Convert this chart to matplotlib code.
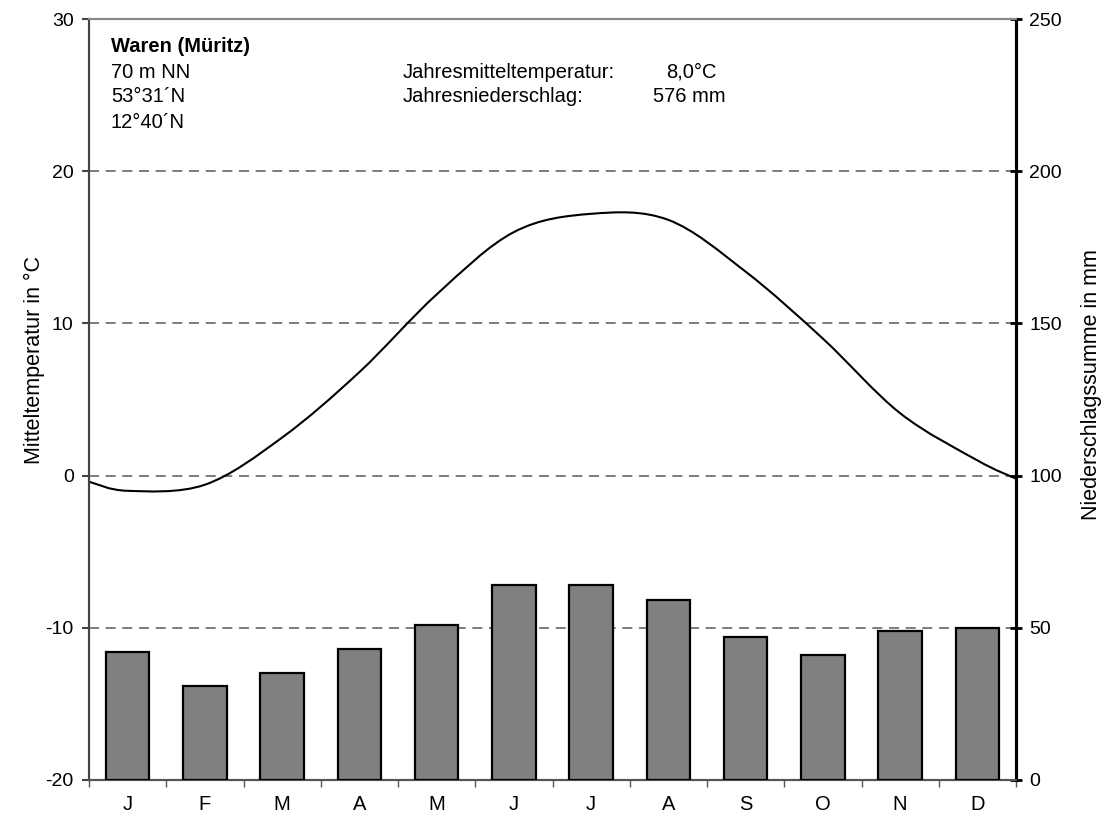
import matplotlib
matplotlib.use("Agg")
import matplotlib.pyplot as plt
from matplotlib.path import Path
from matplotlib.patches import PathPatch

plt.rcParams['font.family'] = ['Liberation Sans', 'DejaVu Sans']
plt.rcParams['axes.unicode_minus'] = False

# Klimadaten Waren (Müritz)
months = ["J", "F", "M", "A", "M", "J", "J", "A", "S", "O", "N", "D"]
temperature = [-1.0, -0.6, 2.5, 6.8, 11.9, 16.0, 17.2, 16.8, 13.4, 9.0, 4.1, 1.0]
temp_edges = [-0.4, -0.2]  # curve value at left and right plot edge
precipitation = [42, 31, 35, 43, 51, 64, 64, 59, 47, 41, 49, 50]

station_lines = ["70 m NN", "53°31´N", "12°40´N"]


def smooth_path(xs, ys):
    # Catmull-Rom style bezier through the given points (like a spreadsheet smoothed line)
    n = len(xs)
    verts = [(xs[0], ys[0])]
    codes = [Path.MOVETO]
    for i in range(n - 1):
        x0, y0 = (xs[i - 1], ys[i - 1]) if i > 0 else (xs[i], ys[i])
        x1, y1 = xs[i], ys[i]
        x2, y2 = xs[i + 1], ys[i + 1]
        x3, y3 = (xs[i + 2], ys[i + 2]) if i + 2 < n else (x2, y2)
        c1 = (x1 + (x2 - x0) / 6, y1 + (y2 - y0) / 6)
        c2 = (x2 - (x3 - x1) / 6, y2 - (y3 - y1) / 6)
        verts += [c1, c2, (x2, y2)]
        codes += [Path.CURVE4] * 3
    return Path(verts, codes)


fig = plt.figure(figsize=(11.04, 8.25), dpi=100)
ax = fig.add_axes([89 / 1104, 45 / 825, 927 / 1104, 761 / 825])
ax2 = ax.twinx()

x = list(range(12))

# Precipitation bars (right axis)
ax2.bar(x, precipitation, width=0.56, color="#808080", edgecolor="black", linewidth=1.6, zorder=3)
ax2.set_ylim(0, 250)
ax2.set_yticks([0, 50, 100, 150, 200, 250])

# Temperature curve (left axis)
xs = [-0.5] + x + [11.5]
ys = [temp_edges[0]] + temperature + [temp_edges[1]]
ax.add_patch(PathPatch(smooth_path(xs, ys), facecolor="none", edgecolor="black", linewidth=1.5, zorder=4))
ax.set_ylim(-20, 30)
ax.set_yticks([-20, -10, 0, 10, 20, 30])
ax.set_xlim(-0.5, 11.5)

# dashed gridlines
for v in [-10, 0, 10, 20]:
    ax.axhline(v, color="#666666", linestyle=(0, (6, 4)), linewidth=1.2, zorder=1)

# x axis: ticks between months, labels at month centers
ax.set_xticks([i - 0.5 for i in range(13)])
ax.set_xticklabels([])
ax.set_xticks(x, minor=True)
ax.set_xticklabels(months, minor=True, fontsize=14.5)
ax.tick_params(axis="x", which="minor", length=0, pad=11)
ax.tick_params(axis="x", which="major", length=5, width=1, color="#555555", direction="out")
ax.tick_params(axis="y", labelsize=14, length=5, width=1.5, color="#444444", pad=6)
ax2.tick_params(axis="y", labelsize=14, length=9, width=2, color="black", direction="inout", pad=5)

for a in (ax, ax2):
    a.spines["top"].set_color("#888888")
    a.spines["top"].set_linewidth(1.5)
    a.spines["bottom"].set_color("#555555")
    a.spines["bottom"].set_linewidth(1.5)
    a.spines["left"].set_color("#444444")
    a.spines["left"].set_linewidth(1.5)
    a.spines["right"].set_color("black")
    a.spines["right"].set_linewidth(2.2)

# axis titles
fig.text(34 / 1104, 1 - 360 / 825, "Mitteltemperatur in °C", fontsize=15.5,
         rotation=90, ha="center", va="center")
fig.text(1091 / 1104, 1 - 385 / 825, "Niederschlagssumme in mm", fontsize=15.5,
         rotation=90, ha="center", va="center")


# station info
def ax_xy(px, py):
    return (px - 89) / 927, (780 - py) / 761


info_size = 14.5
ax.text(*ax_xy(111, 47), "Waren (Müritz)", fontsize=info_size, fontweight="bold", va="center", ha="left", transform=ax.transAxes)
for i, line in enumerate(station_lines):
    ax.text(*ax_xy(111, 72 + i * 25), line, fontsize=info_size, va="center", ha="left", transform=ax.transAxes)
ax.text(*ax_xy(403, 72), "Jahresmitteltemperatur:", fontsize=info_size, va="center", ha="left", transform=ax.transAxes)
ax.text(*ax_xy(403, 97), "Jahresniederschlag:", fontsize=info_size, va="center", ha="left", transform=ax.transAxes)
ax.text(*ax_xy(666, 72), "8,0°C", fontsize=info_size, va="center", ha="left", transform=ax.transAxes)
ax.text(*ax_xy(653, 97), "576 mm", fontsize=info_size, va="center", ha="left", transform=ax.transAxes)

fig.savefig("out.png", dpi=100)
